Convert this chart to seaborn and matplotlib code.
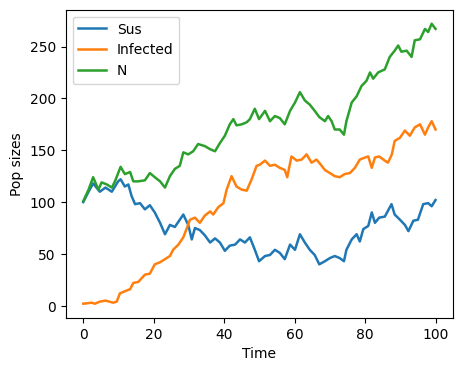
import matplotlib
matplotlib.use("Agg")
import matplotlib.pyplot as plt
import seaborn as sns

# values (time, population)
sus_t = [0, 1.5, 2.8, 4.7, 6.3, 8.1, 9.9, 10.6, 11.8, 12.8, 13.7, 14.7, 16.1, 17.5,
         18.9, 20.3, 21.8, 23.2, 24.6, 26, 27.4, 28.4, 29.8, 30.8, 31.7, 33.1, 34.5,
         36, 37.4, 38.8, 40.2, 41.6, 43.1, 44.5, 45.9, 47.3, 48.7, 49.9, 51.6, 53,
         54.4, 55.8, 57.2, 58.7, 60.1, 61.5, 62.9, 64.3, 65.7, 67, 68.6, 70, 71.4,
         72.8, 74, 74.7, 76.2, 77.6, 78.5, 79.5, 80.9, 81.9, 82.8, 84, 85.6, 87.5,
         88.4, 89.9, 91.3, 92.3, 93.7, 95, 96.5, 97.9, 98.9, 100]
sus = [100, 110, 118, 110, 114, 110, 120, 122, 115, 117, 106, 98, 99, 93,
       97, 90, 80, 69, 78, 76, 83, 88, 78, 64, 75, 73, 68,
       61, 65, 61, 53, 58, 59, 64, 61, 66, 54, 43, 48, 49,
       54, 51, 45, 59, 54, 69, 61, 54, 49, 40, 43, 46, 48,
       46, 43, 54, 64, 69, 62, 74, 77, 90, 80, 85, 86, 98,
       88, 83, 78, 72, 82, 83, 98, 99, 96, 102]

inf_t = [0, 2.4, 3.3, 4.7, 6.3, 8.5, 9.5, 10.4, 11.8, 13.3, 14.2, 15.6, 17.5, 18.9,
         20.3, 21.8, 23.2, 24.6, 25.5, 27, 28.4, 29.3, 30.3, 31.7, 33.1, 34.5, 36,
         36.9, 38.3, 39.8, 40.7, 42.1, 43.5, 45, 46.4, 47.8, 49.2, 50.1, 51.6, 53,
         54.4, 55.8, 57.2, 57.9, 59.1, 60.6, 62, 63.4, 64.8, 66.2, 67.2, 68.6, 70,
         71.4, 72.8, 74.2, 75.7, 77.1, 78.5, 80, 80.9, 81.9, 82.8, 84, 85.6, 86.5,
         87.6, 88.4, 89.9, 91.3, 92.7, 94.1, 95.6, 97, 97.9, 98.9, 100]
infected = [2, 3, 2, 4, 5, 3, 4, 12, 14, 16, 22, 23, 30, 31,
            40, 42, 45, 48, 54, 59, 66, 74, 83, 85, 80, 87, 91,
            88, 95, 99, 112, 125, 115, 112, 111, 122, 135, 136, 140, 135,
            136, 133, 131, 124, 144, 140, 141, 146, 138, 141, 137, 131, 128,
            125, 124, 127, 128, 133, 141, 143, 144, 133, 143, 144, 140, 138,
            146, 159, 162, 169, 164, 172, 175, 165, 172, 178, 170]

n_t = [0, 1.5, 2.8, 4.3, 5.2, 6.7, 8.1, 9, 10.6, 11.8, 13.3, 14.2, 15.6, 17.5,
       18.9, 20.3, 21.8, 23.2, 24.6, 26, 27.4, 28.4, 29.8, 31.2, 32.6, 34.5, 36,
       37.4, 38.8, 40.2, 41.6, 42.6, 43.5, 45, 46.4, 47.3, 48.7, 49.9, 51.6, 53,
       54.4, 55.8, 57.2, 58.7, 60.1, 61.5, 62.9, 64.3, 65.7, 67, 68.6, 69.5, 70.5,
       71.4, 72.8, 74, 74.7, 76.2, 77.6, 79, 80.4, 81.4, 82.3, 83.7, 85.6, 87,
       88.4, 89.4, 90.3, 91.8, 93.2, 94.1, 95.6, 97, 97.9, 98.9, 100]
n_total = [101, 112, 124, 112, 119, 117, 114, 120, 134, 127, 129, 120, 120, 121,
           128, 124, 120, 114, 125, 132, 135, 148, 146, 149, 156, 154, 151,
           149, 157, 164, 175, 180, 174, 175, 177, 180, 190, 180, 188, 178,
           183, 181, 175, 188, 196, 206, 198, 194, 188, 182, 178, 183, 178,
           170, 170, 165, 178, 196, 202, 212, 217, 225, 219, 225, 228, 240,
           246, 251, 245, 246, 240, 256, 257, 267, 264, 272, 267]

fig, ax = plt.subplots(figsize=(5, 4), dpi=100)
sns.lineplot(x=sus_t, y=sus, ax=ax, label="Sus", color="#1f77b4", linewidth=1.8)
sns.lineplot(x=inf_t, y=infected, ax=ax, label="Infected", color="#ff7f0e", linewidth=1.8)
sns.lineplot(x=n_t, y=n_total, ax=ax, label="N", color="#2ca02c", linewidth=1.8)
ax.set_xlabel("Time")
ax.set_ylabel("Pop sizes")
ax.legend(loc="upper left")
fig.savefig("out.png", dpi=100, bbox_inches="tight")
